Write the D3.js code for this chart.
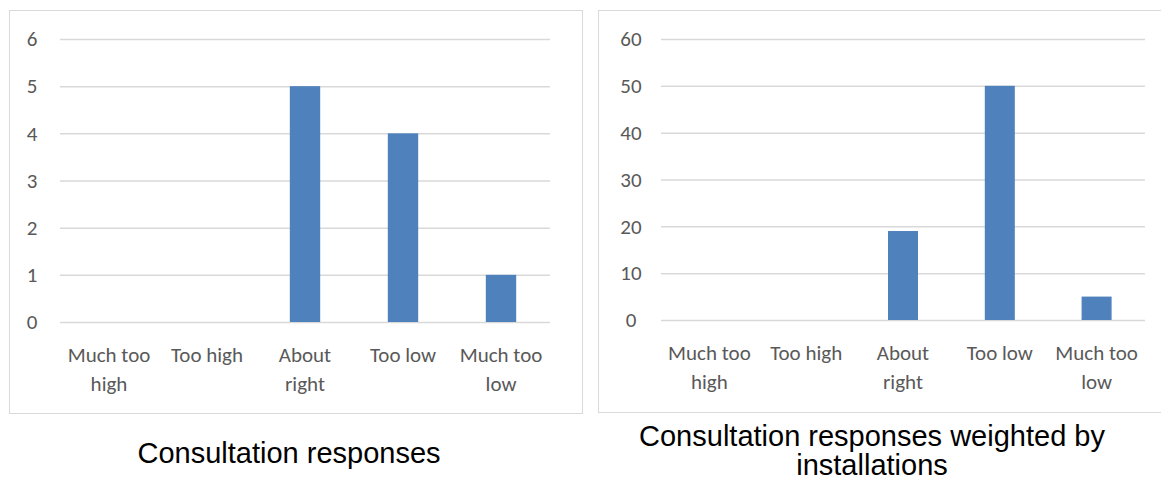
<!DOCTYPE html>
<html>
<head>
<meta charset="utf-8">
<script src="https://cdn.jsdelivr.net/npm/d3@7"></script>
<style>
  html, body { margin: 0; padding: 0; background: #fff; }
  svg { display: block; }
</style>
</head>
<body>
<svg id="chart" width="1161" height="483"></svg>
<script>
// Response categories shared by both panels
const categories = ["Much too high", "Too high", "About right", "Too low", "Much too low"];
// Wrapped category labels (two lines where needed)
const categoryLines = [["Much too", "high"], ["Too high"], ["About", "right"], ["Too low"], ["Much too", "low"]];

// Panel 1: raw consultation response counts
const responseCounts = [0, 0, 5, 4, 1];
const responseTicks = [0, 1, 2, 3, 4, 5, 6];

// Panel 2: responses weighted by installations
const weightedCounts = [0, 0, 19, 50, 5];
const weightedTicks = [0, 10, 20, 30, 40, 50, 60];

const titles = [["Consultation responses"], ["Consultation responses weighted by", "installations"]];

const svg = d3.select("#chart");
const barColor = "#4f81bd";
const gridColor = "#d9d9d9";
const textColor = "#595959";
const labelFont = "Carlito, Lato, 'Open Sans', sans-serif";

function panel(cfg) {
  const g = svg.append("g");

  // chart area frame
  g.append("rect")
    .attr("x", cfg.box[0] + 0.5).attr("y", cfg.box[1] + 0.5)
    .attr("width", cfg.box[2]).attr("height", cfg.box[3])
    .attr("fill", "#fff").attr("stroke", "#d9d9d9").attr("stroke-width", 1);

  const x = d3.scaleBand().domain(categories).range([cfg.x0, cfg.x1]).paddingInner(0.69).paddingOuter(0.345);
  const y = d3.scaleLinear().domain([0, d3.max(cfg.ticks)]).range([cfg.y0, cfg.y1]);

  // horizontal gridlines with value labels
  const yAxis = d3.axisLeft(y).tickValues(cfg.ticks).tickSize(-(cfg.x1 - cfg.x0)).tickPadding(0).tickFormat(d3.format("d"));
  const ya = g.append("g").attr("transform", `translate(${cfg.x0},0)`).call(yAxis);
  ya.select(".domain").remove();
  ya.selectAll(".tick line").attr("stroke", gridColor).attr("stroke-width", 1.5);
  ya.selectAll(".tick text")
    .attr("x", cfg.labelX - cfg.x0)
    .attr("text-anchor", "middle")
    .attr("fill", textColor)
    .style("font-family", labelFont)
    .style("font-size", "21px");

  // bars
  g.selectAll("rect.bar").data(cfg.values).join("rect")
    .attr("class", "bar")
    .attr("x", (d, i) => x(categories[i]))
    .attr("width", x.bandwidth())
    .attr("y", d => y(d))
    .attr("height", d => y(0) - y(d))
    .attr("fill", barColor);

  // category labels
  categoryLines.forEach((lines, i) => {
    const cx = x(categories[i]) + x.bandwidth() / 2;
    const t = g.append("text")
      .attr("x", cx).attr("y", cfg.y0 + 40)
      .attr("text-anchor", "middle")
      .attr("fill", textColor)
      .style("font-family", labelFont)
      .style("font-size", "21px");
    lines.forEach((ln, j) => {
      t.append("tspan").attr("x", cx).attr("dy", j === 0 ? 0 : 29).text(ln);
    });
  });

  // panel title beneath the frame
  const tt = g.append("text")
    .attr("x", cfg.titleX).attr("y", cfg.titleY)
    .attr("text-anchor", "middle")
    .attr("fill", "#000")
    .style("font-family", "'Liberation Sans', Arial, sans-serif")
    .style("font-size", "29px");
  cfg.title.forEach((ln, j) => {
    tt.append("tspan").attr("x", cfg.titleX).attr("dy", j === 0 ? 0 : 29).text(ln);
  });
}

panel({
  box: [9, 10, 573, 403],
  x0: 60, x1: 550, y0: 322, y1: 39,
  labelX: 32,
  ticks: responseTicks, values: responseCounts,
  title: titles[0], titleX: 289, titleY: 463
});

panel({
  box: [598, 10, 600, 402],
  x0: 661, x1: 1145, y0: 320, y1: 39,
  labelX: 631,
  ticks: weightedTicks, values: weightedCounts,
  title: titles[1], titleX: 872, titleY: 446
});
</script>
</body>
</html>
